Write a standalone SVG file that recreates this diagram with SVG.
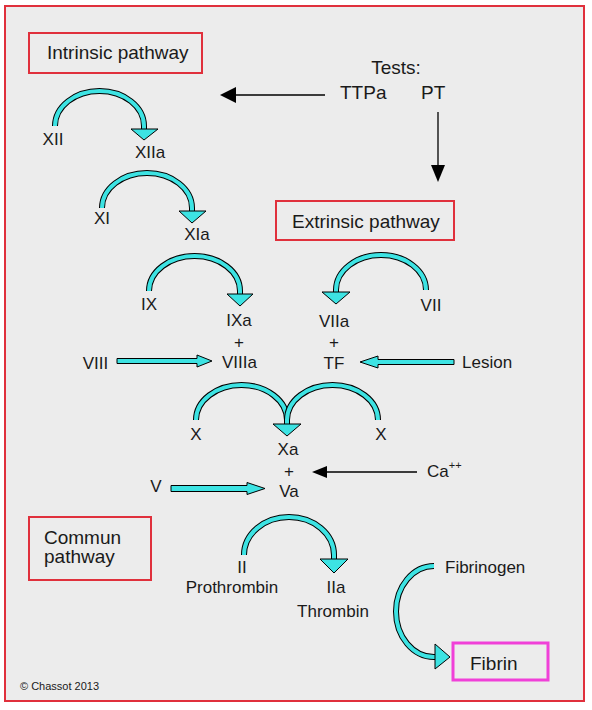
<svg xmlns="http://www.w3.org/2000/svg" xmlns:xlink="http://www.w3.org/1999/xlink" width="592" height="710" viewBox="0 0 592 710">
<style>
text{font-family:"Liberation Sans",Arial,sans-serif;fill:#1a1a1a}
.lbl{font-size:17px;text-anchor:middle}
.lbs{font-size:17px;text-anchor:start}
.ttl{font-size:19px}
.box{fill:none;stroke:#e0303c;stroke-width:2}
.bo{fill:none;stroke:#000;stroke-width:6}
.bi{fill:none;stroke:#3de3e3;stroke-width:4}
.hd{fill:#3de3e3;stroke:#000;stroke-width:1;stroke-linejoin:miter}
.ln{stroke:#000;stroke-width:1.3;fill:none}
.ah{fill:#000}
</style>
<defs>
<path id="a1" d="M55,126 A44.5,35 0 0 1 144,126 L144,130"/>
<path id="a2" d="M102,208 A45,35 0 0 1 192,208 L192,212"/>
<path id="a3" d="M149,291 A45.5,35 0 0 1 240,291 L240,295"/>
<path id="a4" d="M426,290 A45,35 0 0 0 336,290 L336,293"/>
<path id="a5" d="M196,420 A45.5,35 0 0 1 287,420 L287,425"/>
<path id="a6" d="M378,420 A45.5,35 0 0 0 287,420 L287,425"/>
<path id="a7" d="M244,555 A45,38 0 0 1 334,555 L334,560"/>
<path id="a8" d="M434,566 A38,45.5 0 0 0 434,657 L436,657"/>
</defs>
<rect x="0" y="0" width="592" height="710" fill="#ffffff"/>
<rect x="5" y="6" width="579" height="695" fill="#ececec" stroke="#e0303c" stroke-width="2"/>

<g id="connectors">
<use xlink:href="#a1" class="bo"/><use xlink:href="#a1" class="bi"/>
<polygon class="hd" points="131,129 158,129 144,140"/>
<use xlink:href="#a2" class="bo"/><use xlink:href="#a2" class="bi"/>
<polygon class="hd" points="179,211 206,211 192,223"/>
<use xlink:href="#a3" class="bo"/><use xlink:href="#a3" class="bi"/>
<polygon class="hd" points="227,294 253,294 240,306"/>
<use xlink:href="#a4" class="bo"/><use xlink:href="#a4" class="bi"/>
<polygon class="hd" points="322,292 350,292 336,304"/>
<use xlink:href="#a5" class="bo"/><use xlink:href="#a5" class="bi"/>
<use xlink:href="#a6" class="bo"/><use xlink:href="#a6" class="bi"/>
<polygon class="hd" points="273,424 301,424 287,436"/>
<use xlink:href="#a7" class="bo"/><use xlink:href="#a7" class="bi"/>
<polygon class="hd" points="320,559 348,559 334,573"/>
<use xlink:href="#a8" class="bo"/><use xlink:href="#a8" class="bi"/>
<polygon class="hd" points="435,644 435,669 450,657"/>
<polygon class="hd" points="117,358.5 197,358.5 197,355 212,361 197,367 197,363.5 117,363.5"/>
<polygon class="hd" points="454,359.5 378,359.5 378,356 360,362 378,368 378,364.5 454,364.5"/>
<polygon class="hd" points="171,485.5 247,485.5 247,482.5 265,488.5 247,494.5 247,491.5 171,491.5"/>
<line class="ln" x1="236" y1="95" x2="325" y2="95"/>
<polygon class="ah" points="220,95 236,87 236,103"/>
<line class="ln" x1="438" y1="112" x2="438" y2="166"/>
<polygon class="ah" points="438,182 431,165 445,165"/>
<line class="ln" x1="326" y1="472" x2="417" y2="472"/>
<polygon class="ah" points="312,472 327,466 327,478"/>
</g>

<g id="intrinsic"><rect class="box" x="29" y="33" width="173" height="40"/><text class="ttl" x="47" y="59">Intrinsic pathway</text></g>
<g id="extrinsic"><rect class="box" x="276" y="201" width="178" height="39"/><text class="ttl" x="292" y="228">Extrinsic pathway</text></g>
<g id="commun"><rect class="box" x="29" y="517" width="122" height="63"/><text class="ttl" x="44" y="544">Commun</text><text class="ttl" x="44" y="563">pathway</text></g>
<g id="tests"><text class="ttl" x="396" y="74" text-anchor="middle">Tests:</text><text class="ttl" x="340" y="99">TTPa</text><text class="ttl" x="421" y="99">PT</text></g>
<g id="xii"><text class="lbl" x="53" y="145">XII</text></g>
<g id="xiia"><text class="lbl" x="150" y="158">XIIa</text></g>
<g id="xi"><text class="lbl" x="102" y="224">XI</text></g>
<g id="xia"><text class="lbl" x="197" y="240">XIa</text></g>
<g id="ix"><text class="lbl" x="149" y="310">IX</text></g>
<g id="ixa"><text class="lbl" x="239" y="326">IXa</text><text class="lbl" x="239" y="348">+</text><text class="lbl" x="239.5" y="368">VIIIa</text></g>
<g id="viii"><text class="lbl" x="95.5" y="369">VIII</text></g>
<g id="vii"><text class="lbl" x="431" y="311">VII</text></g>
<g id="viia"><text class="lbl" x="334" y="327">VIIa</text><text class="lbl" x="334" y="348">+</text><text class="lbl" x="334" y="369">TF</text></g>
<g id="lesion"><text class="lbs" x="462" y="368">Lesion</text></g>
<g id="x1"><text class="lbl" x="196" y="440">X</text></g>
<g id="x2"><text class="lbl" x="381" y="440">X</text></g>
<g id="xa"><text class="lbl" x="288" y="455">Xa</text><text class="lbl" x="289" y="477">+</text><text class="lbl" x="289" y="497">Va</text></g>
<g id="v"><text class="lbl" x="156" y="492">V</text></g>
<g id="ca"><text class="lbs" x="427" y="477">Ca<tspan font-size="11" dy="-8">++</tspan></text></g>
<g id="ii"><text class="lbl" x="242" y="573">II</text><text class="lbl" x="232" y="593">Prothrombin</text></g>
<g id="iia"><text class="lbl" x="336" y="593">IIa</text><text class="lbl" x="333" y="617">Thrombin</text></g>
<g id="fibrinogen"><text class="lbs" x="445" y="573">Fibrinogen</text></g>
<g id="fibrin"><rect x="453" y="643" width="95" height="37" fill="none" stroke="#f040d8" stroke-width="3"/><text class="ttl" x="470" y="670">Fibrin</text></g>
<g id="copyright"><text x="20" y="690" font-size="11">© Chassot 2013</text></g>
</svg>
